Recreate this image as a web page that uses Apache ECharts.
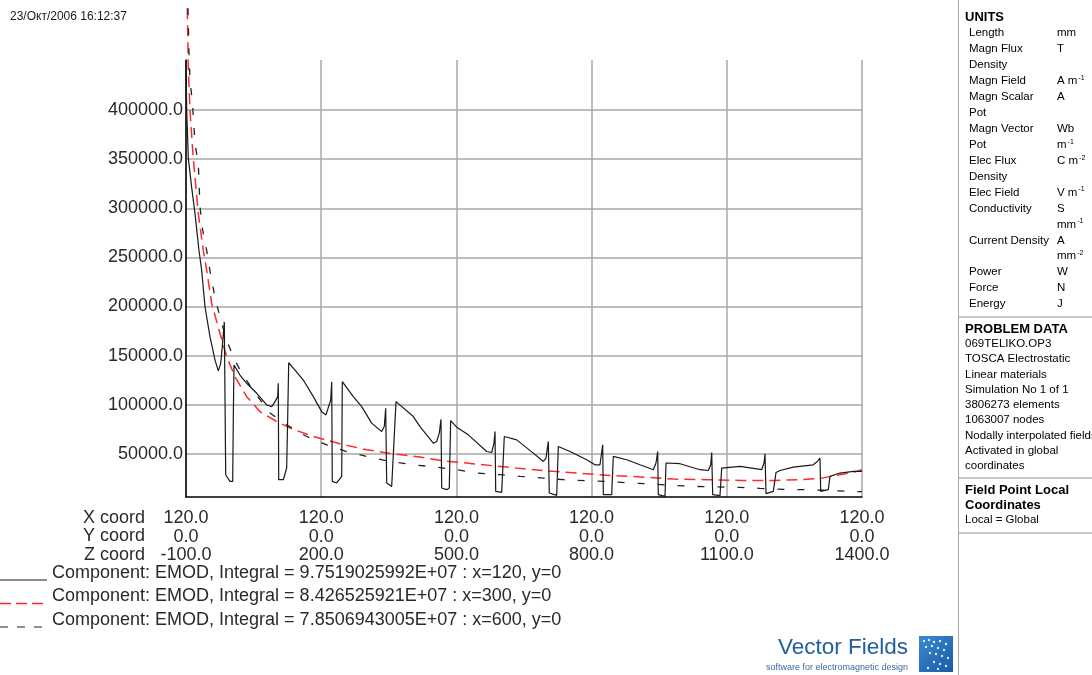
<!DOCTYPE html>
<html>
<head>
<meta charset="utf-8">
<script src="https://cdn.jsdelivr.net/npm/echarts@6/dist/echarts.min.js"></script>
<style>
html,body{margin:0;padding:0;background:#fff;}
#chart{width:1092px;height:675px;}
</style>
</head>
<body>
<div id="chart"></div>
<script>
// ---- Data (Z coordinate in mm, EMOD in V/m) ----
// Series 1: x=120, y=0 (solid black)
const z1 = [-100,-98.4,-94.9,-87.4,-80,-71.2,-65.2,-57.8,-46.7,-35.6,-28.3,-23,-19.5,-15,-13.5,-11.9,-2.4,3.6,5,6.5,19.8,34.7,56.9,79.1,90.2,97.5,103.5,104.8,105.7,115.9,123.4,125.7,127.9,141.9,160.3,182.5,201.1,210.6,221.1,223.3,224.6,234.4,245.5,246.8,271.2,289.9,312,334.2,340,343.1,345.3,356.4,360,366,404.4,419.2,448.7,456.3,462,465.8,467.4,478.5,484.2,487.3,500.7,526.4,567.2,578.3,583.4,585.7,587.2,600.5,604.1,606.3,633.8,670.6,692.8,698.8,703.9,706.1,722.6,726.1,752.1,789.1,807.5,818.6,824.6,826,844.6,848.1,877.9,907.4,936.9,942.9,946.7,948,962.9,965.1,996.2,1040.5,1059,1064.3,1066.5,1068.7,1084.9,1088.7,1129.3,1177.4,1182.6,1184.8,1187,1203.2,1209.2,1218.1,1247.6,1291.9,1300.8,1306.8,1308.3,1325.2,1329,1351.2,1380.7,1400];
const e1 = [450000,399000,351400,321000,294600,257000,236800,199500,169100,145400,134500,142100,158900,184300,108200,28700,21900,21900,87900,140300,130200,121800,111600,99700,98000,103100,108200,121800,23600,23600,35500,87900,142700,135300,125100,108200,92900,89600,104800,123400,21900,20300,27000,123400,108200,98000,81200,72600,77700,96400,20300,16800,18500,103100,87900,77700,60900,62500,71000,85200,15200,13500,15200,83800,77100,69300,52300,51300,60900,72600,11700,10700,11700,67600,64200,50700,42200,45600,62500,10100,7700,57400,52300,43900,38800,38800,59100,8400,8400,47300,43900,38800,33800,40600,52300,8400,6700,40600,39900,33800,33000,38800,51300,8400,7400,35500,37100,33800,40600,50000,9400,11700,31000,33000,36500,38800,42200,45600,11700,13500,27000,30400,32000,32000];
// Series 2: x=300, y=0 (red dashed)
const z2 = [-97.1,-94.9,-91.1,-85.1,-80,-72.7,-61.6,-54.1,-43,-24.6,-9.7,8.7,34.7,64.2,101.3,130.8,182.5,241.7,301,360,419.2,470.9,545,618.9,692.8,766.9,840.8,929.5,981.3,1055.4,1129.3,1203.2,1263,1306.8,1351.2,1380.7,1400];
const e2 = [503700,442800,399200,358600,331200,294600,257100,236800,203000,172500,148800,128500,108200,92900,82800,76100,67600,60200,54100,50000,46700,42900,39500,36100,33000,30400,28000,25900,24300,23600,22900,22900,23600,24900,28700,31000,33800];
// Series 3: x=600, y=0 (black dashed)
const z3 = [-95.6,-93.3,-91.1,-86,-80,-72.7,-68.9,-62.9,-54.1,-44.5,-35.6,-24.6,-9.7,5,23.6,53.1,86.4,123.4,167.8,212.2,256.6,301,352.7,404.4,441.4,500.7,545,596.7,641.1,692.8,737.2,789.1,840.8,885.2,929.5,981.3,1025.7,1129.3,1173.7,1225.4,1269.7,1321.7,1369.6,1400];
const e3 = [503700,457000,429600,409300,365700,345400,300700,277400,257100,229700,209400,189100,165700,148500,132200,111900,91600,79400,67600,59100,52300,47300,42200,38800,37100,33800,30400,28700,27000,25300,23600,22600,21600,20300,19300,17800,16800,15800,14800,13800,13500,12800,11700,11400];

const zTicks = [-100,200,500,800,1100,1400];
const xCoordLabel = '120.0';
const yCoordLabel = '0.0';
const yTicks = [50000,100000,150000,200000,250000,300000,350000,400000];
const legendTexts = [
  'Component: EMOD, Integral = 9.7519025992E+07 : x=120, y=0',
  'Component: EMOD, Integral = 8.426525921E+07 : x=300, y=0',
  'Component: EMOD, Integral = 7.8506943005E+07 : x=600, y=0'
];
const timestamp = '23/Окт/2006 16:12:37';
const unitNames = ['Length','Magn Flux','Density','Magn Field','Magn Scalar','Pot','Magn Vector','Pot','Elec Flux','Density','Elec Field','Conductivity','','Current Density','','Power','Force','Energy'];
const unitVals = ['mm','T','','A m{s|-1}','A','','Wb','m{s|-1}','C m{s|-2}','','V m{s|-1}','S','mm{s|-1}','A','mm{s|-2}','W','N','J'];
const problemLines = ['069TELIKO.OP3','TOSCA Electrostatic','Linear materials','Simulation No 1 of 1','3806273 elements','1063007 nodes','Nodally interpolated fields','Activated in global','coordinates'];
const fieldPointLines = ['Local = Global'];

const zip = (a, b) => a.map((v, i) => [v, b[i]]);

const FONT = '"Liberation Sans", Arial, sans-serif';
const chart = echarts.init(document.getElementById('chart'), null, {renderer: 'canvas'});

const graphics = [];
// timestamp
graphics.push({type:'text', x:10, y:17, style:{text:timestamp, font:'12px ' + FONT, fill:'#1a1a1a', verticalAlign:'middle'}});
// coord row titles
['X coord','Y coord','Z coord'].forEach((t, i) => {
  graphics.push({type:'text', x:145, y:518 + i*18.5, style:{text:t, font:'18px ' + FONT, fill:'#2a2a2a', align:'right', verticalAlign:'middle'}});
});
// legend
const legStyles = [
  {stroke:'#1a1a1a', lineWidth:1.2, lineDash:null},
  {stroke:'#ff2a2a', lineWidth:1.5, lineDash:[11,5]},
  {stroke:'#222', lineWidth:1.2, lineDash:[8,9]}
];
legendTexts.forEach((t, i) => {
  const yc = 573 + i*23.5;
  graphics.push({type:'line', shape:{x1:0, y1:yc+7, x2:47, y2:yc+7}, style:legStyles[i]});
  graphics.push({type:'text', x:52, y:yc, style:{text:t, font:'18px ' + FONT, fill:'#2a2a2a', verticalAlign:'middle'}});
});
// right panel
const PF = '11.5px ' + FONT;
const PB = 'bold 13px ' + FONT;
graphics.push({type:'line', shape:{x1:958.5, y1:0, x2:958.5, y2:675}, style:{stroke:'#a8a8a8', lineWidth:1}});
graphics.push({type:'text', x:965, y:17, style:{text:'UNITS', font:PB, fill:'#000', verticalAlign:'middle'}});
unitNames.forEach((n, i) => {
  const y = 33 + i*15.95;
  if (n) graphics.push({type:'text', x:969, y:y, style:{text:n, font:PF, fill:'#000', verticalAlign:'middle'}});
  if (unitVals[i]) graphics.push({type:'text', x:1057, y:y, style:{text:unitVals[i], font:PF, fill:'#000', verticalAlign:'middle', rich:{s:{font:'7px ' + FONT, fill:'#000', verticalAlign:'top', padding:[0,0,6,1]}}}});
});
[317, 478, 533].forEach(y => {
  graphics.push({type:'line', shape:{x1:959, y1:y, x2:1092, y2:y}, style:{stroke:'#c8c8c8', lineWidth:2}});
});
graphics.push({type:'text', x:965, y:329, style:{text:'PROBLEM DATA', font:PB, fill:'#000', verticalAlign:'middle'}});
problemLines.forEach((t, i) => {
  graphics.push({type:'text', x:965, y:344 + i*15.25, style:{text:t, font:PF, fill:'#000', verticalAlign:'middle'}});
});
graphics.push({type:'text', x:965, y:490, style:{text:'Field Point Local', font:PB, fill:'#000', verticalAlign:'middle'}});
graphics.push({type:'text', x:965, y:505, style:{text:'Coordinates', font:PB, fill:'#000', verticalAlign:'middle'}});
fieldPointLines.forEach((t, i) => {
  graphics.push({type:'text', x:965, y:520 + i*15, style:{text:t, font:PF, fill:'#000', verticalAlign:'middle'}});
});
// Vector Fields logo
graphics.push({type:'text', x:908, y:648, style:{text:'Vector Fields', font:'22.5px ' + FONT, fill:'#22609c', align:'right', verticalAlign:'middle'}});
graphics.push({type:'text', x:908, y:668, style:{text:'software for electromagnetic design', font:'9px ' + FONT, fill:'#3a6aa0', align:'right', verticalAlign:'middle'}});
graphics.push({type:'rect', shape:{x:919, y:636, width:34, height:36}, style:{fill:{type:'linear', x:0, y:0, x2:1, y2:1, colorStops:[{offset:0, color:'#3a8ad0'},{offset:1, color:'#1a5aa8'}]}}});
[[924,641],[929,640],[934,642],[940,641],[946,644],[926,647],[932,646],[938,648],[944,650],[930,653],[936,654],[942,656],[948,658],[934,662],[940,664],[946,666],[928,668],[938,669]].forEach(p => {
  graphics.push({type:'circle', shape:{cx:p[0], cy:p[1], r:1.2}, style:{fill:'rgba(255,255,255,0.85)'}});
});

const option = {
  animation: false,
  backgroundColor: '#ffffff',
  grid: {left:186, right:230, top:60, bottom:178, containLabel:false},
  xAxis: {
    type: 'value', min: -100, max: 1400,
    axisLine: {show:true, onZero:false, lineStyle:{color:'#000', width:1.5}},
    axisTick: {show:false, customValues: zTicks},
    axisLabel: {
      customValues: zTicks,
      margin: 12,
      formatter: v => xCoordLabel + '\n' + yCoordLabel + '\n' + v.toFixed(1),
      fontFamily: FONT, fontSize: 18, lineHeight: 18.5, color: '#2a2a2a'
    },
    splitLine: {show:true, lineStyle:{color:'#a9a9a9', width:1.5}}
  },
  yAxis: {
    type: 'value', min: 6000, max: 451000,
    axisLine: {show:true, onZero:false, lineStyle:{color:'#000', width:1.5}},
    axisTick: {show:false, customValues: yTicks},
    axisLabel: {
      customValues: yTicks,
      margin: 3,
      formatter: v => v.toFixed(1),
      fontFamily: FONT, fontSize: 18, color: '#2a2a2a'
    },
    splitLine: {show:true, lineStyle:{color:'#bdbdbd', width:2}}
  },
  series: [
    {type:'line', data: zip(z2, e2), showSymbol:false, clip:false, z:3,
     lineStyle:{color:'#ff2a2a', width:1.5, type:[11,6]}},
    {type:'line', data: zip(z3, e3), showSymbol:false, clip:false, z:4,
     lineStyle:{color:'#222', width:1.3, type:[7,13]}},
    {type:'line', data: zip(z1, e1), showSymbol:false, clip:false, z:5,
     lineStyle:{color:'#1a1a1a', width:1.2}}
  ],
  graphic: graphics
};
chart.setOption(option);
</script>
</body>
</html>
